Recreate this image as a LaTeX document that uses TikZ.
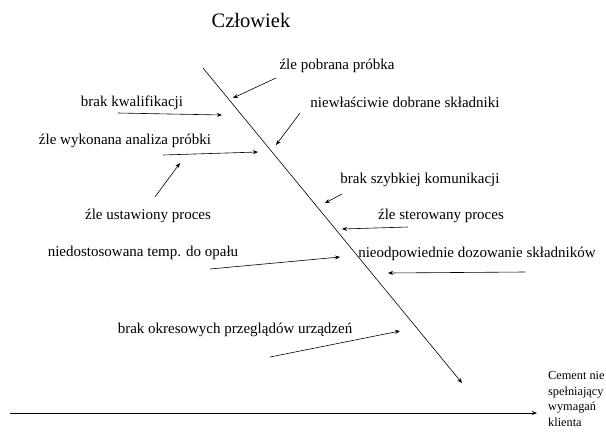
\documentclass[tikz,border=0pt]{standalone}
\usepackage{fontspec}
\setmainfont{Liberation Serif}
\usepackage{tikz}
\usetikzlibrary{arrows.meta}

\begin{document}
\begin{tikzpicture}[
    x=1pt, y=-1pt,
    every node/.style={font=\fontsize{15}{17}\selectfont, inner sep=0pt},
    cause/.style={anchor=center},
    title/.style={font=\fontsize{20.5}{24}\selectfont},
    effect/.style={align=left, anchor=north west, font=\fontsize{12.3}{15.8}\selectfont},
    arrow/.style={-{Stealth[length=5pt, width=4pt]}, line width=0.6pt}
]
\useasboundingbox (0,0) rectangle (606,432);

% Nodes
\node[title] (czlowiek) at (251,20) {Człowiek};
\node[cause] (pobrana) at (337,66) {źle pobrana próbka};
\node[cause] (kwalif) at (132,103) {brak kwalifikacji};
\node[cause] (skladniki) at (405,102) {niewłaściwie dobrane składniki};
\node[cause] (analiza) at (125,141) {źle wykonana analiza próbki};
\node[cause] (komunik) at (420,180) {brak szybkiej komunikacji};
\node[cause] (ustawiony) at (148,216) {źle ustawiony proces};
\node[cause] (sterowany) at (441,216) {źle sterowany proces};
\node[cause] (temp) at (143,253) {niedostosowana temp. do opału};
\node[cause] (dozowanie) at (477,254) {nieodpowiednie dozowanie składników};
\node[cause] (przeglady) at (235,330) {brak okresowych przeglądów urządzeń};
\node[effect] (cement) at (548,371) {Cement nie\\spełniający\\wymagań\\klienta};

% Arrow ends
\coordinate (bone top) at (203,68);
\coordinate (bone end) at (462,383);
\coordinate (spine start) at (10,413);
\coordinate (spine end) at (537,413);
\coordinate (a1s) at (276,78);   \coordinate (a1e) at (233,98);
\coordinate (a2s) at (118,113);  \coordinate (a2e) at (222,115);
\coordinate (a3s) at (300,113);  \coordinate (a3e) at (276,145);
\coordinate (a4s) at (163,155);  \coordinate (a4e) at (258,152);
\coordinate (a5s) at (155,197);  \coordinate (a5e) at (180,163);
\coordinate (a6s) at (342,194);  \coordinate (a6e) at (325,203);
\coordinate (a7s) at (408,227);  \coordinate (a7e) at (342,229);
\coordinate (a8s) at (210,269);  \coordinate (a8e) at (340,257);
\coordinate (a9s) at (525,272);  \coordinate (a9e) at (388,273);
\coordinate (a10s) at (270,357); \coordinate (a10e) at (400,331);

% Arrows
\draw[arrow] (bone top) -- (bone end);
\draw[arrow] (spine start) -- (spine end);
\draw[arrow] (a1s) -- (a1e);
\draw[arrow] (a2s) -- (a2e);
\draw[arrow] (a3s) -- (a3e);
\draw[arrow] (a4s) -- (a4e);
\draw[arrow] (a5s) -- (a5e);
\draw[arrow] (a6s) -- (a6e);
\draw[arrow] (a7s) -- (a7e);
\draw[arrow] (a8s) -- (a8e);
\draw[arrow] (a9s) -- (a9e);
\draw[arrow] (a10s) -- (a10e);

\end{tikzpicture}
\end{document}
